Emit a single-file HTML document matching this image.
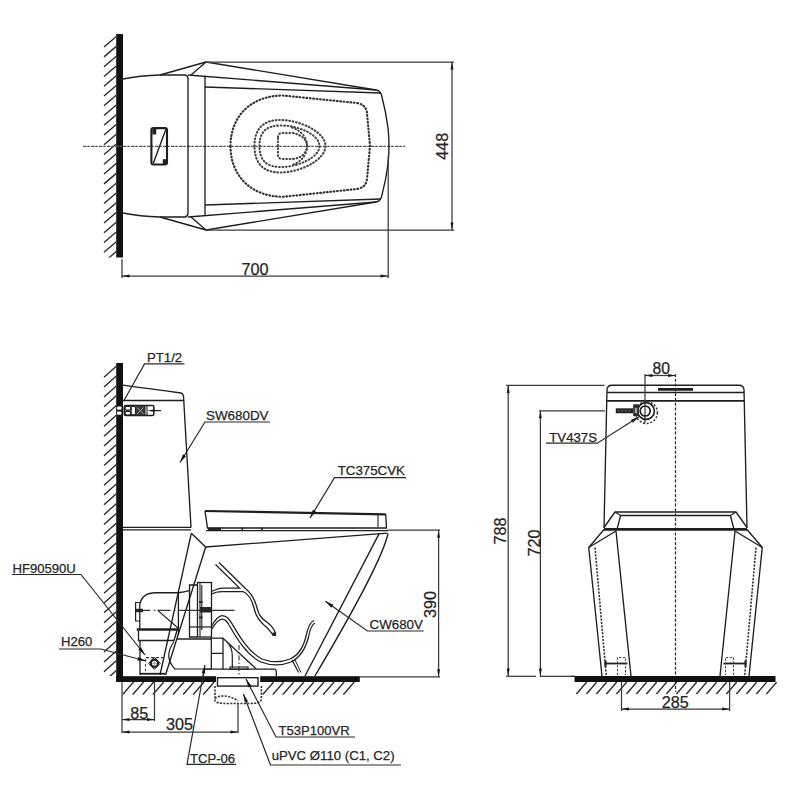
<!DOCTYPE html>
<html><head><meta charset="utf-8"><style>
html,body{margin:0;padding:0;background:#fff;width:800px;height:800px;overflow:hidden}
svg{display:block}
text{font-family:"Liberation Sans",sans-serif}
</style></head><body>
<svg width="800" height="800" viewBox="0 0 800 800">
<rect x="116.2" y="34" width="6.8" height="223.5" fill="#111"/>
<clipPath id="c1"><rect x="103" y="34" width="13.299999999999997" height="223.5"/></clipPath><g clip-path="url(#c1)">
<line x1="104.00" y1="47.10" x2="116.30" y2="36.60" stroke="#2a2a2a" stroke-width="1.35" />
<line x1="104.00" y1="56.87" x2="116.30" y2="46.37" stroke="#2a2a2a" stroke-width="1.35" />
<line x1="104.00" y1="66.64" x2="116.30" y2="56.14" stroke="#2a2a2a" stroke-width="1.35" />
<line x1="104.00" y1="76.41" x2="116.30" y2="65.91" stroke="#2a2a2a" stroke-width="1.35" />
<line x1="104.00" y1="86.18" x2="116.30" y2="75.68" stroke="#2a2a2a" stroke-width="1.35" />
<line x1="104.00" y1="95.95" x2="116.30" y2="85.45" stroke="#2a2a2a" stroke-width="1.35" />
<line x1="104.00" y1="105.72" x2="116.30" y2="95.22" stroke="#2a2a2a" stroke-width="1.35" />
<line x1="104.00" y1="115.49" x2="116.30" y2="104.99" stroke="#2a2a2a" stroke-width="1.35" />
<line x1="104.00" y1="125.26" x2="116.30" y2="114.76" stroke="#2a2a2a" stroke-width="1.35" />
<line x1="104.00" y1="135.03" x2="116.30" y2="124.53" stroke="#2a2a2a" stroke-width="1.35" />
<line x1="104.00" y1="144.80" x2="116.30" y2="134.30" stroke="#2a2a2a" stroke-width="1.35" />
<line x1="104.00" y1="154.57" x2="116.30" y2="144.07" stroke="#2a2a2a" stroke-width="1.35" />
<line x1="104.00" y1="164.34" x2="116.30" y2="153.84" stroke="#2a2a2a" stroke-width="1.35" />
<line x1="104.00" y1="174.11" x2="116.30" y2="163.61" stroke="#2a2a2a" stroke-width="1.35" />
<line x1="104.00" y1="183.88" x2="116.30" y2="173.38" stroke="#2a2a2a" stroke-width="1.35" />
<line x1="104.00" y1="193.65" x2="116.30" y2="183.15" stroke="#2a2a2a" stroke-width="1.35" />
<line x1="104.00" y1="203.42" x2="116.30" y2="192.92" stroke="#2a2a2a" stroke-width="1.35" />
<line x1="104.00" y1="213.19" x2="116.30" y2="202.69" stroke="#2a2a2a" stroke-width="1.35" />
<line x1="104.00" y1="222.96" x2="116.30" y2="212.46" stroke="#2a2a2a" stroke-width="1.35" />
<line x1="104.00" y1="232.73" x2="116.30" y2="222.23" stroke="#2a2a2a" stroke-width="1.35" />
<line x1="104.00" y1="242.50" x2="116.30" y2="232.00" stroke="#2a2a2a" stroke-width="1.35" />
<line x1="104.00" y1="252.27" x2="116.30" y2="241.77" stroke="#2a2a2a" stroke-width="1.35" />
<line x1="104.00" y1="262.04" x2="116.30" y2="251.54" stroke="#2a2a2a" stroke-width="1.35" />
<line x1="104.00" y1="271.81" x2="116.30" y2="261.31" stroke="#2a2a2a" stroke-width="1.35" />
</g>
<line x1="83.00" y1="146.30" x2="405.00" y2="146.30" stroke="#555" stroke-width="1.3" stroke-dasharray="3.5 0.8 2.5 1.2"/>
<path d="M123,79 Q140,75.5 160,75 L185,75 Q188,75.5 188,79 L188,213 Q188,216.5 185,217 L160,217 Q140,216.5 123,213" stroke="#1e1e1e" stroke-width="1.35" fill="none" />
<line x1="160.00" y1="75.00" x2="206.00" y2="62.00" stroke="#1e1e1e" stroke-width="1.35" />
<line x1="191.00" y1="75.00" x2="206.00" y2="62.00" stroke="#1e1e1e" stroke-width="1.35" />
<line x1="160.00" y1="217.00" x2="206.00" y2="230.00" stroke="#1e1e1e" stroke-width="1.35" />
<line x1="191.00" y1="217.00" x2="206.00" y2="230.00" stroke="#1e1e1e" stroke-width="1.35" />
<line x1="206.00" y1="62.00" x2="376.00" y2="90.00" stroke="#1e1e1e" stroke-width="1.35" />
<line x1="206.00" y1="230.00" x2="376.00" y2="202.00" stroke="#1e1e1e" stroke-width="1.35" />
<line x1="188.00" y1="75.00" x2="376.00" y2="90.00" stroke="#1e1e1e" stroke-width="1.35" />
<line x1="188.00" y1="217.00" x2="376.00" y2="202.00" stroke="#1e1e1e" stroke-width="1.35" />
<line x1="205.00" y1="76.00" x2="205.00" y2="216.00" stroke="#1e1e1e" stroke-width="1.35" />
<line x1="205.00" y1="87.00" x2="380.50" y2="93.00" stroke="#1e1e1e" stroke-width="1.35" />
<line x1="205.00" y1="205.00" x2="380.50" y2="199.00" stroke="#1e1e1e" stroke-width="1.35" />
<path d="M376,90 Q380,90.5 381.5,95 Q386,112 388,128 Q389,137 389,146 Q389,155 388,164 Q386,180 381.5,197 Q380,201.5 376,202" stroke="#1e1e1e" stroke-width="1.35" fill="none" />
<path d="M230.5,146 C230.5,115.5 252,95.5 283,95.5 L357,103 Q366,104.5 367,113 L370,146 L367,179 Q366,187.5 357,189 L283,196.8 C252,196.8 230.5,176.5 230.5,146 Z" stroke="#333" stroke-width="2.2" fill="none" stroke-dasharray="0.7 2.7" stroke-linecap="round"/>
<path d="M254.5,146 C254.5,128 264,120 280,120 C300,120 325.5,132 325.5,146 C325.5,160 300,172.5 280,172.5 C264,172.5 254.5,164 254.5,146 Z" stroke="#444" stroke-width="2.1" fill="none" stroke-dasharray="0.7 2.7" stroke-linecap="round"/>
<path d="M259.5,146 C259.5,131 267,125.5 281,125.5 C299,125.5 319.5,135 319.5,146 C319.5,157 299,167 281,167 C267,167 259.5,161 259.5,146 Z" stroke="#444" stroke-width="2.1" fill="none" stroke-dasharray="0.7 2.7" stroke-linecap="round"/>
<path d="M278,137 Q278,133 283,133 L293,133 C302,135 307,140 307,146 C307,152 302,158 293,159 L283,159 Q278,159 278,155 Z" stroke="#444" stroke-width="2.1" fill="none" stroke-dasharray="0.7 2.7" stroke-linecap="round"/>
<path d="M292,127.5 C302,131 307,138 307,146 M307,146 C307,155 301,162 292,165" stroke="#444" stroke-width="2.0" fill="none" stroke-dasharray="0.7 2.7" stroke-linecap="round"/>
<rect x="151.4" y="128.1" width="15.6" height="36.4" rx="2" fill="none" stroke="#1e1e1e" stroke-width="2.1" />
<line x1="165.80" y1="129.50" x2="153.30" y2="163.30" stroke="#1e1e1e" stroke-width="1.4" />
<rect x="152.4" y="129" width="3.8" height="5.5" fill="#222"/>
<rect x="162.8" y="159.2" width="3.8" height="5.3" fill="#222"/>
<line x1="206.00" y1="62.00" x2="454.00" y2="62.00" stroke="#3a3a3a" stroke-width="1.25" />
<line x1="206.00" y1="230.00" x2="454.00" y2="230.00" stroke="#3a3a3a" stroke-width="1.25" />
<line x1="452.00" y1="62.00" x2="452.00" y2="230.00" stroke="#3a3a3a" stroke-width="1.25" />
<path d="M452.00,62.00 L453.50,69.50 L450.50,69.50 Z" fill="#1c1c1c"/>
<path d="M452.00,230.00 L450.50,222.50 L453.50,222.50 Z" fill="#1c1c1c"/>
<text x="447.7" y="146.2" font-size="16.2" text-anchor="middle" fill="#262626" stroke="#262626" stroke-width="0.25" letter-spacing="0" transform="rotate(-90 447.7 146.2)">448</text>
<line x1="122.00" y1="259.00" x2="122.00" y2="278.00" stroke="#3a3a3a" stroke-width="1.25" />
<line x1="388.20" y1="156.00" x2="388.20" y2="278.00" stroke="#3a3a3a" stroke-width="1.25" />
<line x1="122.00" y1="276.00" x2="388.00" y2="276.00" stroke="#3a3a3a" stroke-width="1.25" />
<path d="M122.00,276.00 L129.50,274.50 L129.50,277.50 Z" fill="#1c1c1c"/>
<path d="M388.00,276.00 L380.50,277.50 L380.50,274.50 Z" fill="#1c1c1c"/>
<text x="255" y="275" font-size="16.2" text-anchor="middle" fill="#262626" stroke="#262626" stroke-width="0.25" letter-spacing="0">700</text>
<rect x="116.2" y="363" width="6.8" height="319" fill="#111"/>
<clipPath id="c2"><rect x="103" y="363" width="13.299999999999997" height="313"/></clipPath><g clip-path="url(#c2)">
<line x1="104.00" y1="377.25" x2="116.30" y2="366.25" stroke="#2a2a2a" stroke-width="1.35" />
<line x1="104.00" y1="387.06" x2="116.30" y2="376.06" stroke="#2a2a2a" stroke-width="1.35" />
<line x1="104.00" y1="396.88" x2="116.30" y2="385.88" stroke="#2a2a2a" stroke-width="1.35" />
<line x1="104.00" y1="406.69" x2="116.30" y2="395.69" stroke="#2a2a2a" stroke-width="1.35" />
<line x1="104.00" y1="416.51" x2="116.30" y2="405.51" stroke="#2a2a2a" stroke-width="1.35" />
<line x1="104.00" y1="426.32" x2="116.30" y2="415.32" stroke="#2a2a2a" stroke-width="1.35" />
<line x1="104.00" y1="436.14" x2="116.30" y2="425.14" stroke="#2a2a2a" stroke-width="1.35" />
<line x1="104.00" y1="445.95" x2="116.30" y2="434.95" stroke="#2a2a2a" stroke-width="1.35" />
<line x1="104.00" y1="455.77" x2="116.30" y2="444.77" stroke="#2a2a2a" stroke-width="1.35" />
<line x1="104.00" y1="465.58" x2="116.30" y2="454.58" stroke="#2a2a2a" stroke-width="1.35" />
<line x1="104.00" y1="475.40" x2="116.30" y2="464.40" stroke="#2a2a2a" stroke-width="1.35" />
<line x1="104.00" y1="485.21" x2="116.30" y2="474.21" stroke="#2a2a2a" stroke-width="1.35" />
<line x1="104.00" y1="495.03" x2="116.30" y2="484.03" stroke="#2a2a2a" stroke-width="1.35" />
<line x1="104.00" y1="504.84" x2="116.30" y2="493.84" stroke="#2a2a2a" stroke-width="1.35" />
<line x1="104.00" y1="514.66" x2="116.30" y2="503.66" stroke="#2a2a2a" stroke-width="1.35" />
<line x1="104.00" y1="524.48" x2="116.30" y2="513.48" stroke="#2a2a2a" stroke-width="1.35" />
<line x1="104.00" y1="534.29" x2="116.30" y2="523.29" stroke="#2a2a2a" stroke-width="1.35" />
<line x1="104.00" y1="544.11" x2="116.30" y2="533.11" stroke="#2a2a2a" stroke-width="1.35" />
<line x1="104.00" y1="553.92" x2="116.30" y2="542.92" stroke="#2a2a2a" stroke-width="1.35" />
<line x1="104.00" y1="563.74" x2="116.30" y2="552.74" stroke="#2a2a2a" stroke-width="1.35" />
<line x1="104.00" y1="573.55" x2="116.30" y2="562.55" stroke="#2a2a2a" stroke-width="1.35" />
<line x1="104.00" y1="583.37" x2="116.30" y2="572.37" stroke="#2a2a2a" stroke-width="1.35" />
<line x1="104.00" y1="593.18" x2="116.30" y2="582.18" stroke="#2a2a2a" stroke-width="1.35" />
<line x1="104.00" y1="603.00" x2="116.30" y2="592.00" stroke="#2a2a2a" stroke-width="1.35" />
<line x1="104.00" y1="612.81" x2="116.30" y2="601.81" stroke="#2a2a2a" stroke-width="1.35" />
<line x1="104.00" y1="622.63" x2="116.30" y2="611.63" stroke="#2a2a2a" stroke-width="1.35" />
<line x1="104.00" y1="632.44" x2="116.30" y2="621.44" stroke="#2a2a2a" stroke-width="1.35" />
<line x1="104.00" y1="642.26" x2="116.30" y2="631.26" stroke="#2a2a2a" stroke-width="1.35" />
<line x1="104.00" y1="652.07" x2="116.30" y2="641.07" stroke="#2a2a2a" stroke-width="1.35" />
<line x1="104.00" y1="661.89" x2="116.30" y2="650.89" stroke="#2a2a2a" stroke-width="1.35" />
<line x1="104.00" y1="671.70" x2="116.30" y2="660.70" stroke="#2a2a2a" stroke-width="1.35" />
<line x1="104.00" y1="681.52" x2="116.30" y2="670.52" stroke="#2a2a2a" stroke-width="1.35" />
<line x1="104.00" y1="691.33" x2="116.30" y2="680.33" stroke="#2a2a2a" stroke-width="1.35" />
</g>
<rect x="116.2" y="676.2" width="99.8" height="5.8" fill="#111"/>
<rect x="260.2" y="676.2" width="99.6" height="5.8" fill="#111"/>
<line x1="359.00" y1="676.80" x2="440.00" y2="676.80" stroke="#3a3a3a" stroke-width="1.25" />
<clipPath id="c3"><rect x="122.5" y="682" width="93.5" height="12.799999999999955"/></clipPath><g clip-path="url(#c3)">
<line x1="122.50" y1="694.80" x2="133.50" y2="682.00" stroke="#2a2a2a" stroke-width="1.35" />
<line x1="132.58" y1="694.80" x2="143.58" y2="682.00" stroke="#2a2a2a" stroke-width="1.35" />
<line x1="142.66" y1="694.80" x2="153.66" y2="682.00" stroke="#2a2a2a" stroke-width="1.35" />
<line x1="152.74" y1="694.80" x2="163.74" y2="682.00" stroke="#2a2a2a" stroke-width="1.35" />
<line x1="162.82" y1="694.80" x2="173.82" y2="682.00" stroke="#2a2a2a" stroke-width="1.35" />
<line x1="172.90" y1="694.80" x2="183.90" y2="682.00" stroke="#2a2a2a" stroke-width="1.35" />
<line x1="182.98" y1="694.80" x2="193.98" y2="682.00" stroke="#2a2a2a" stroke-width="1.35" />
<line x1="193.06" y1="694.80" x2="204.06" y2="682.00" stroke="#2a2a2a" stroke-width="1.35" />
<line x1="203.14" y1="694.80" x2="214.14" y2="682.00" stroke="#2a2a2a" stroke-width="1.35" />
</g>
<clipPath id="c4"><rect x="260" y="682" width="96" height="12.799999999999955"/></clipPath><g clip-path="url(#c4)">
<line x1="262.60" y1="694.80" x2="273.60" y2="682.00" stroke="#2a2a2a" stroke-width="1.35" />
<line x1="272.68" y1="694.80" x2="283.68" y2="682.00" stroke="#2a2a2a" stroke-width="1.35" />
<line x1="282.76" y1="694.80" x2="293.76" y2="682.00" stroke="#2a2a2a" stroke-width="1.35" />
<line x1="292.84" y1="694.80" x2="303.84" y2="682.00" stroke="#2a2a2a" stroke-width="1.35" />
<line x1="302.92" y1="694.80" x2="313.92" y2="682.00" stroke="#2a2a2a" stroke-width="1.35" />
<line x1="313.00" y1="694.80" x2="324.00" y2="682.00" stroke="#2a2a2a" stroke-width="1.35" />
<line x1="323.08" y1="694.80" x2="334.08" y2="682.00" stroke="#2a2a2a" stroke-width="1.35" />
<line x1="333.16" y1="694.80" x2="344.16" y2="682.00" stroke="#2a2a2a" stroke-width="1.35" />
<line x1="343.24" y1="694.80" x2="354.24" y2="682.00" stroke="#2a2a2a" stroke-width="1.35" />
</g>
<path d="M123,385.2 Q150,389 181,393 Q183,393.5 183.5,396 L191,527.5" stroke="#1e1e1e" stroke-width="1.35" fill="none" />
<line x1="123.00" y1="400.50" x2="183.00" y2="400.50" stroke="#1e1e1e" stroke-width="1.7" />
<line x1="123.00" y1="527.30" x2="191.00" y2="527.30" stroke="#1e1e1e" stroke-width="1.35" />
<line x1="123.00" y1="529.90" x2="191.00" y2="529.90" stroke="#1e1e1e" stroke-width="1.35" />
<rect x="117" y="406.6" width="4.5" height="3.2" rx="1" fill="#fff"/>
<rect x="117" y="411.6" width="4.5" height="3.2" rx="1" fill="#fff"/>
<rect x="124.25" y="405.6" width="29.6" height="10" rx="1.5" fill="none" stroke="#1e1e1e" stroke-width="1.5" />
<rect x="125.2" y="406.5" width="5.5" height="3.6" rx="1" fill="none" stroke="#1e1e1e" stroke-width="1.1" />
<rect x="125.2" y="411.4" width="5.5" height="3.6" rx="1" fill="none" stroke="#1e1e1e" stroke-width="1.1" />
<rect x="131.2" y="406.4" width="4.3" height="8.4" rx="1" fill="none" stroke="#1e1e1e" stroke-width="1.1" />
<rect x="135.8" y="406" width="8.8" height="9.2" fill="#3a3a3a"/>
<path d="M137,407.5 L143.5,414 M137,414 L143.5,407.5" stroke="#aaa" stroke-width="0.9"/>
<line x1="144.80" y1="405.60" x2="144.80" y2="415.60" stroke="#1e1e1e" stroke-width="1.3" />
<line x1="147.00" y1="405.60" x2="147.00" y2="415.60" stroke="#1e1e1e" stroke-width="1.1" />
<line x1="161.00" y1="410.60" x2="150.00" y2="410.60" stroke="#1e1e1e" stroke-width="1.2" />
<path d="M147.50,410.60 L155.00,409.25 L155.00,411.95 Z" fill="#222"/>
<path d="M205,511 L385.7,514.3" stroke="#1e1e1e" stroke-width="2.2" fill="none" />
<path d="M205,511 L207.5,528 L386.5,528 L385.7,514.3" stroke="#1e1e1e" stroke-width="1.35" fill="none" />
<line x1="378.00" y1="515.00" x2="378.00" y2="527.00" stroke="#1e1e1e" stroke-width="1.1" />
<line x1="206.00" y1="530.60" x2="388.00" y2="530.60" stroke="#1e1e1e" stroke-width="1.35" />
<rect x="208" y="527.8" width="13" height="2.6" fill="#222"/>
<line x1="242.30" y1="527.50" x2="242.30" y2="531.00" stroke="#1e1e1e" stroke-width="1.6" />
<line x1="262.00" y1="527.50" x2="262.00" y2="531.00" stroke="#1e1e1e" stroke-width="1.6" />
<path d="M191.3,533.3 L205.7,547 L387.3,533.1" stroke="#1e1e1e" stroke-width="1.35" fill="none" />
<line x1="191.30" y1="533.30" x2="160.00" y2="675.00" stroke="#1e1e1e" stroke-width="1.35" />
<line x1="205.70" y1="547.00" x2="165.50" y2="675.00" stroke="#1e1e1e" stroke-width="1.35" />
<path d="M388,533.5 C384,552 360,600 314.9,676" stroke="#1e1e1e" stroke-width="1.35" fill="none" />
<path d="M379,533.9 L305,676" stroke="#1e1e1e" stroke-width="1.35" fill="none" />
<path d="M219,562.5 L246,589 C252,594 255,600 257,608 C259,616 262,619 268,623 C272,626 274,629 276,634" stroke="#1e1e1e" stroke-width="1.25" fill="none" />
<path d="M212,594 C215,592 217,591.5 222,591.5 L243,591.5 C249,594 252,600 254,608 C256,617 259,621 264,625 C268,628 270,631 273,635" stroke="#1e1e1e" stroke-width="1.25" fill="none" />
<path d="M215.5,564.5 L239.5,588 L222,588 C217,588 215,591 211.5,591" stroke="#1e1e1e" stroke-width="1.25" fill="none" />
<rect x="272.5" y="632.5" width="3.5" height="3.5" fill="#222"/>
<path d="M211.5,626 C215,620 218,615.5 222,615.5 C226,615.5 228,618 231,622 C238,634 248,652 262,659 C270,662 280,663 290,659 C299,655 304,645 306,636 C308,627 310,622 314,620.5" stroke="#1e1e1e" stroke-width="1.25" fill="none" />
<path d="M211.5,629.5 C215,623.5 218,619 222,619 C225,619 227,621 229,625 C236,637 246,655 261,662 C270,665.5 281,666 291,662 C301,657 306,647 308.5,637 C310,629 312,624.5 315,623" stroke="#1e1e1e" stroke-width="1.25" fill="none" />
<line x1="292.00" y1="660.00" x2="298.60" y2="672.50" stroke="#1e1e1e" stroke-width="1.2" />
<line x1="295.00" y1="660.00" x2="301.00" y2="672.50" stroke="#1e1e1e" stroke-width="1.0" />
<path d="M139.75,628.5 L139.75,604.75 C141,597 146,592.75 156,592.75 L178.4,592.75 Q184,592 189.25,590.5" stroke="#1e1e1e" stroke-width="1.3" fill="none" />
<path d="M139.75,602.5 L135.6,602.5 L135.6,621 L139.75,621" stroke="#1e1e1e" stroke-width="1.2" fill="none" />
<line x1="136.75" y1="629.50" x2="178.50" y2="629.50" stroke="#1e1e1e" stroke-width="2.6" />
<path d="M138.5,630.5 L138.5,640.5 L174,640.5 L177,630.5" stroke="#1e1e1e" stroke-width="1.3" fill="none" />
<line x1="178.40" y1="591.00" x2="178.40" y2="635.00" stroke="#1e1e1e" stroke-width="1.3" />
<line x1="140.00" y1="640.50" x2="140.00" y2="675.00" stroke="#1e1e1e" stroke-width="1.3" />
<line x1="140.00" y1="674.00" x2="165.00" y2="674.00" stroke="#1e1e1e" stroke-width="1.2" />
<path d="M139.75,610.4 L150.25,610.4 M153.75,610.4 L155.25,610.4 M157.75,610.4 L170.5,610.4 M174,610.4 L175.5,610.4 M178.5,610.4 L234.5,610.4" stroke="#333" stroke-width="1.2" fill="none" />
<rect x="135.5" y="608.8" width="7.5" height="3.4" fill="#222"/>
<line x1="157.75" y1="610.40" x2="178.00" y2="628.00" stroke="#1e1e1e" stroke-width="1.2" />
<circle cx="154.4" cy="663.3" r="3.6" fill="none" stroke="#1e1e1e" stroke-width="2.2" />
<path d="M154.4,657.3 L160.2,663.3 L154.4,669.3 L148.6,663.3 Z" stroke="#1e1e1e" stroke-width="1.0" fill="none" />
<line x1="152.20" y1="663.30" x2="156.60" y2="663.30" stroke="#888" stroke-width="0.8" />
<line x1="154.40" y1="661.00" x2="154.40" y2="665.60" stroke="#888" stroke-width="0.8" />
<line x1="146.00" y1="657.60" x2="163.00" y2="657.60" stroke="#333" stroke-width="1.1" stroke-dasharray="3 2"/>
<line x1="145.50" y1="659.00" x2="145.50" y2="671.00" stroke="#444" stroke-width="1.0" stroke-dasharray="2.5 2.5"/>
<line x1="140.00" y1="673.50" x2="165.00" y2="673.50" stroke="#1e1e1e" stroke-width="1.3" />
<rect x="197.5" y="582.5" width="14" height="54.5" rx="0" fill="none" stroke="#1e1e1e" stroke-width="1.3" />
<path d="M197.5,585 L189.5,585 L189.5,637 L197.5,637" stroke="#1e1e1e" stroke-width="1.3" fill="none" />
<line x1="189.50" y1="627.00" x2="211.50" y2="627.00" stroke="#1e1e1e" stroke-width="1.2" />
<line x1="200.00" y1="582.50" x2="200.00" y2="637.00" stroke="#1e1e1e" stroke-width="1.1" />
<line x1="201.80" y1="585.00" x2="201.80" y2="630.00" stroke="#1e1e1e" stroke-width="1.1" />
<rect x="200" y="607" width="11" height="5.5" fill="#262626"/>
<rect x="199" y="601" width="3.5" height="2" fill="#262626"/>
<rect x="199" y="616.5" width="3.5" height="2" fill="#262626"/>
<line x1="177.00" y1="639.00" x2="211.50" y2="639.00" stroke="#1e1e1e" stroke-width="1.3" />
<line x1="174.00" y1="669.00" x2="211.50" y2="669.00" stroke="#1e1e1e" stroke-width="1.2" />
<path d="M174,641.5 C168,650 166,660 175,669" stroke="#1e1e1e" stroke-width="1.2" fill="none" />
<path d="M211.3,637.5 L211.3,669.5 M223,638 L223,669.5 M211.3,653.4 L223,653.4 M211.3,638 L223,638" stroke="#1e1e1e" stroke-width="1.25" fill="none" />
<path d="M222.75,638 L256.4,669 M226.5,641.5 C230.5,645 232.3,650 232.3,656 L232.3,668" stroke="#1e1e1e" stroke-width="1.2" fill="none" />
<path d="M203.4,669.2 L274.5,669.2 Q276.3,669.5 276.3,671.5 L276.3,676.2" stroke="#1e1e1e" stroke-width="1.3" fill="none" />
<line x1="203.40" y1="669.20" x2="203.40" y2="676.20" stroke="#1e1e1e" stroke-width="1.2" />
<rect x="230" y="667" width="18" height="2.2" rx="0" fill="none" stroke="#1e1e1e" stroke-width="1.1" />
<line x1="239.00" y1="645.00" x2="239.00" y2="676.00" stroke="#333" stroke-width="1.1" stroke-dasharray="5 2 1.5 2"/>
<rect x="217.5" y="677.7" width="40.5" height="8.4" rx="0" fill="none" stroke="#1e1e1e" stroke-width="1.4" />
<path d="M215,686 L215,700.7 Q216,703.5 228,703.5 L250,703.5 Q261.4,703.5 261.4,699 L261.4,686" stroke="#333" stroke-width="1.6" fill="none" stroke-dasharray="2.1 1.3"/>
<path d="M215,698.5 C220,694 232,696 238,701" stroke="#333" stroke-width="1.6" fill="none" stroke-dasharray="2.1 1.3"/>
<text x="147" y="362" font-size="13.2" text-anchor="start" fill="#262626" stroke="#262626" stroke-width="0.25" letter-spacing="0">PT1/2</text>
<path d="M184.5,363.9 L144.5,363.9 L124,400.5" stroke="#2a2a2a" stroke-width="1.2" fill="none" />
<text x="206" y="420" font-size="13.4" text-anchor="start" fill="#262626" stroke="#262626" stroke-width="0.25" letter-spacing="0">SW680DV</text>
<path d="M270,422 L205,422 L180,462.5" stroke="#2a2a2a" stroke-width="1.2" fill="none" />
<path d="M180.00,462.50 L182.98,454.35 L185.95,456.19 Z" fill="#151515"/>
<text x="337.7" y="475.3" font-size="13.3" text-anchor="start" fill="#262626" stroke="#262626" stroke-width="0.25" letter-spacing="0">TC375CVK</text>
<path d="M406,477.6 L334.5,477.6 L310,518" stroke="#2a2a2a" stroke-width="1.2" fill="none" />
<path d="M310.00,518.00 L312.91,509.82 L315.90,511.64 Z" fill="#151515"/>
<text x="369.6" y="629.4" font-size="13.3" text-anchor="start" fill="#262626" stroke="#262626" stroke-width="0.25" letter-spacing="0">CW680V</text>
<path d="M423.7,631 L367.4,631 L325.4,601.3" stroke="#2a2a2a" stroke-width="1.2" fill="none" />
<path d="M325.40,601.30 L333.35,604.78 L331.33,607.64 Z" fill="#151515"/>
<text x="12.5" y="573" font-size="13.1" text-anchor="start" fill="#262626" stroke="#262626" stroke-width="0.25" letter-spacing="0">HF90590U</text>
<path d="M12,574.5 L81,574.5 L145,655" stroke="#2a2a2a" stroke-width="1.2" fill="none" />
<path d="M145.00,655.00 L138.34,649.44 L141.08,647.26 Z" fill="#151515"/>
<text x="61" y="646" font-size="13.1" text-anchor="start" fill="#262626" stroke="#262626" stroke-width="0.25" letter-spacing="0">H260</text>
<path d="M59,649 L101,649 L146,661" stroke="#2a2a2a" stroke-width="1.2" fill="none" />
<path d="M146.00,661.00 L137.34,660.50 L138.24,657.12 Z" fill="#151515"/>
<text x="190" y="763" font-size="13.1" text-anchor="start" fill="#262626" stroke="#262626" stroke-width="0.25" letter-spacing="0">TCP-06</text>
<path d="M236,764.3 L187,764.3 L205,665" stroke="#2a2a2a" stroke-width="1.2" fill="none" />
<path d="M205.00,665.00 L205.21,673.68 L201.76,673.05 Z" fill="#151515"/>
<text x="278.4" y="734.7" font-size="13.1" text-anchor="start" fill="#262626" stroke="#262626" stroke-width="0.25" letter-spacing="0">T53P100VR</text>
<path d="M355,737 L276,737 L246,679" stroke="#2a2a2a" stroke-width="1.2" fill="none" />
<path d="M246.00,679.00 L251.46,685.75 L248.35,687.35 Z" fill="#151515"/>
<text x="271.7" y="760" font-size="13.2" text-anchor="start" fill="#262626" stroke="#262626" stroke-width="0.25" letter-spacing="0">uPVC Ø110 (C1, C2)</text>
<path d="M401,765 L270.5,765 L243.4,694" stroke="#2a2a2a" stroke-width="1.2" fill="none" />
<path d="M243.40,694.00 L248.07,701.32 L244.80,702.57 Z" fill="#151515"/>
<line x1="387.60" y1="530.20" x2="440.00" y2="530.20" stroke="#3a3a3a" stroke-width="1.25" />
<line x1="438.60" y1="530.20" x2="438.60" y2="676.80" stroke="#3a3a3a" stroke-width="1.25" />
<path d="M438.60,530.20 L440.10,537.70 L437.10,537.70 Z" fill="#1c1c1c"/>
<path d="M438.60,676.80 L437.10,669.30 L440.10,669.30 Z" fill="#1c1c1c"/>
<text x="436.5" y="604.4" font-size="16.2" text-anchor="middle" fill="#262626" stroke="#262626" stroke-width="0.25" letter-spacing="0" transform="rotate(-90 436.5 604.4)">390</text>
<line x1="122.00" y1="682.00" x2="122.00" y2="733.00" stroke="#3a3a3a" stroke-width="1.25" />
<line x1="154.50" y1="682.00" x2="154.50" y2="721.00" stroke="#3a3a3a" stroke-width="1.25" />
<line x1="238.00" y1="703.00" x2="238.00" y2="733.00" stroke="#3a3a3a" stroke-width="1.25" />
<line x1="122.00" y1="719.60" x2="154.50" y2="719.60" stroke="#3a3a3a" stroke-width="1.25" />
<path d="M122.00,719.60 L129.50,718.10 L129.50,721.10 Z" fill="#1c1c1c"/>
<path d="M154.50,719.60 L147.00,721.10 L147.00,718.10 Z" fill="#1c1c1c"/>
<text x="139.2" y="718.6" font-size="16.2" text-anchor="middle" fill="#262626" stroke="#262626" stroke-width="0.25" letter-spacing="0">85</text>
<line x1="122.00" y1="732.00" x2="238.00" y2="732.00" stroke="#3a3a3a" stroke-width="1.25" />
<path d="M122.00,732.00 L129.50,730.50 L129.50,733.50 Z" fill="#1c1c1c"/>
<path d="M238.00,732.00 L230.50,733.50 L230.50,730.50 Z" fill="#1c1c1c"/>
<text x="179.5" y="730" font-size="16.2" text-anchor="middle" fill="#262626" stroke="#262626" stroke-width="0.25" letter-spacing="0">305</text>
<path d="M604,528 L607,389.5 Q607.5,385.2 612,385.2 L739,385.2 Q743.5,385.2 744,389.5 L747,528" stroke="#1e1e1e" stroke-width="1.35" fill="none" />
<line x1="607.00" y1="392.50" x2="744.00" y2="392.50" stroke="#1e1e1e" stroke-width="1.35" />
<line x1="607.00" y1="400.90" x2="744.20" y2="400.90" stroke="#1e1e1e" stroke-width="1.9" />
<line x1="658.00" y1="389.40" x2="693.00" y2="389.40" stroke="#1e1e1e" stroke-width="2.8" />
<line x1="675.50" y1="374.00" x2="675.50" y2="692.00" stroke="#2a2a2a" stroke-width="1.2" stroke-dasharray="3 1.8"/>
<line x1="645.00" y1="374.00" x2="645.00" y2="423.00" stroke="#3a3a3a" stroke-width="1.25" />
<line x1="645.00" y1="375.50" x2="675.50" y2="375.50" stroke="#3a3a3a" stroke-width="1.25" />
<path d="M645.00,375.50 L652.50,374.00 L652.50,377.00 Z" fill="#1c1c1c"/>
<path d="M675.50,375.50 L668.00,377.00 L668.00,374.00 Z" fill="#1c1c1c"/>
<text x="661.3" y="373.8" font-size="15.8" text-anchor="middle" fill="#262626" stroke="#262626" stroke-width="0.25" letter-spacing="0">80</text>
<circle cx="646" cy="411" r="8.4" fill="none" stroke="#1e1e1e" stroke-width="1.6" />
<circle cx="645.2" cy="411" r="5" fill="none" stroke="#1e1e1e" stroke-width="1.7" />
<circle cx="646.5" cy="412.6" r="10.9" fill="none" stroke="#333" stroke-width="1.5" stroke-dasharray="2 1.7"/>
<rect x="615.75" y="408.3" width="17.5" height="5" fill="#262626"/>
<path d="M618,410.8 L632,410.8" stroke="#777" stroke-width="1" stroke-dasharray="1.5 2"/>
<rect x="633.2" y="404.3" width="5.7" height="11.8" fill="#2a2a2a"/>
<rect x="634.8" y="407.8" width="2.4" height="5.5" fill="#aaa"/>
<text x="549.3" y="441.5" font-size="13.2" text-anchor="start" fill="#262626" stroke="#262626" stroke-width="0.25" letter-spacing="0">TV437S</text>
<path d="M546,443.2 L597.3,443.2 L639,416.75" stroke="#2a2a2a" stroke-width="1.2" fill="none" />
<path d="M639.00,416.75 L632.76,422.78 L630.88,419.83 Z" fill="#151515"/>
<line x1="506.00" y1="385.40" x2="604.50" y2="385.40" stroke="#3a3a3a" stroke-width="1.25" />
<line x1="508.20" y1="385.40" x2="508.20" y2="676.00" stroke="#3a3a3a" stroke-width="1.25" />
<path d="M508.20,385.40 L509.70,392.90 L506.70,392.90 Z" fill="#1c1c1c"/>
<path d="M508.20,676.00 L506.70,668.50 L509.70,668.50 Z" fill="#1c1c1c"/>
<text x="506.3" y="531" font-size="16.2" text-anchor="middle" fill="#262626" stroke="#262626" stroke-width="0.25" letter-spacing="0" transform="rotate(-90 506.3 531)">788</text>
<line x1="539.00" y1="410.75" x2="605.00" y2="410.75" stroke="#3a3a3a" stroke-width="1.25" />
<line x1="540.40" y1="410.75" x2="540.40" y2="676.00" stroke="#3a3a3a" stroke-width="1.25" />
<path d="M540.40,410.75 L541.90,418.25 L538.90,418.25 Z" fill="#1c1c1c"/>
<path d="M540.40,676.00 L538.90,668.50 L541.90,668.50 Z" fill="#1c1c1c"/>
<text x="539.5" y="543" font-size="16.2" text-anchor="middle" fill="#262626" stroke="#262626" stroke-width="0.25" letter-spacing="0" transform="rotate(-90 539.5 543)">720</text>
<line x1="506.00" y1="676.30" x2="536.00" y2="676.30" stroke="#3a3a3a" stroke-width="1.25" />
<line x1="540.00" y1="676.30" x2="575.00" y2="676.30" stroke="#3a3a3a" stroke-width="1.25" />
<path d="M604,527.5 L615,512 L736.0,512 L747.0,527.5" stroke="#1e1e1e" stroke-width="1.35" fill="none" />
<path d="M617,529.4 L620.6,515.5 L730.4,515.5 L734.0,529.4" stroke="#1e1e1e" stroke-width="1.35" fill="none" />
<line x1="615.00" y1="512.00" x2="620.60" y2="515.50" stroke="#1e1e1e" stroke-width="1.1" />
<line x1="736.00" y1="512.00" x2="730.40" y2="515.50" stroke="#1e1e1e" stroke-width="1.1" />
<line x1="604.00" y1="529.40" x2="747.00" y2="529.40" stroke="#1e1e1e" stroke-width="2.8" />
<path d="M604,529.5 L588.75,547.5 L602,676" stroke="#1e1e1e" stroke-width="1.35" fill="none" />
<path d="M616,531 L588.75,547.5" stroke="#1e1e1e" stroke-width="1.35" fill="none" />
<line x1="616.00" y1="531.00" x2="631.00" y2="676.00" stroke="#1e1e1e" stroke-width="1.35" />
<line x1="595.00" y1="547.50" x2="606.30" y2="676.00" stroke="#333" stroke-width="1.6" stroke-dasharray="2.1 1.3"/>
<line x1="605.00" y1="663.50" x2="627.50" y2="663.50" stroke="#222" stroke-width="1.8" />
<line x1="605.50" y1="660.50" x2="605.50" y2="666.50" stroke="#222" stroke-width="2.2" />
<path d="M617.5,675 L617.5,657.5 L625.5,657.5 L625.5,675" stroke="#444" stroke-width="1.1" fill="none" stroke-dasharray="2.2 1.6"/>
<path d="M747.0,529.5 L762.25,547.5 L749.0,676" stroke="#1e1e1e" stroke-width="1.35" fill="none" />
<path d="M735.0,531 L762.25,547.5" stroke="#1e1e1e" stroke-width="1.35" fill="none" />
<line x1="735.00" y1="531.00" x2="720.00" y2="676.00" stroke="#1e1e1e" stroke-width="1.35" />
<line x1="756.00" y1="547.50" x2="744.70" y2="676.00" stroke="#333" stroke-width="1.6" stroke-dasharray="2.1 1.3"/>
<line x1="746.00" y1="663.50" x2="723.50" y2="663.50" stroke="#222" stroke-width="1.8" />
<line x1="745.50" y1="660.50" x2="745.50" y2="666.50" stroke="#222" stroke-width="2.2" />
<path d="M733.5,675 L733.5,657.5 L725.5,657.5 L725.5,675" stroke="#444" stroke-width="1.1" fill="none" stroke-dasharray="2.2 1.6"/>
<rect x="574.5" y="676" width="201" height="6" fill="#111"/>
<line x1="570.00" y1="676.30" x2="575.00" y2="676.30" stroke="#3a3a3a" stroke-width="1.25" />
<clipPath id="c5"><rect x="574" y="682" width="203" height="12.200000000000045"/></clipPath><g clip-path="url(#c5)">
<line x1="576.25" y1="694.20" x2="586.75" y2="682.00" stroke="#2a2a2a" stroke-width="1.35" />
<line x1="586.25" y1="694.20" x2="596.75" y2="682.00" stroke="#2a2a2a" stroke-width="1.35" />
<line x1="596.25" y1="694.20" x2="606.75" y2="682.00" stroke="#2a2a2a" stroke-width="1.35" />
<line x1="606.25" y1="694.20" x2="616.75" y2="682.00" stroke="#2a2a2a" stroke-width="1.35" />
<line x1="616.25" y1="694.20" x2="626.75" y2="682.00" stroke="#2a2a2a" stroke-width="1.35" />
<line x1="626.25" y1="694.20" x2="636.75" y2="682.00" stroke="#2a2a2a" stroke-width="1.35" />
<line x1="636.25" y1="694.20" x2="646.75" y2="682.00" stroke="#2a2a2a" stroke-width="1.35" />
<line x1="646.25" y1="694.20" x2="656.75" y2="682.00" stroke="#2a2a2a" stroke-width="1.35" />
<line x1="656.25" y1="694.20" x2="666.75" y2="682.00" stroke="#2a2a2a" stroke-width="1.35" />
<line x1="666.25" y1="694.20" x2="676.75" y2="682.00" stroke="#2a2a2a" stroke-width="1.35" />
<line x1="676.25" y1="694.20" x2="686.75" y2="682.00" stroke="#2a2a2a" stroke-width="1.35" />
<line x1="686.25" y1="694.20" x2="696.75" y2="682.00" stroke="#2a2a2a" stroke-width="1.35" />
<line x1="696.25" y1="694.20" x2="706.75" y2="682.00" stroke="#2a2a2a" stroke-width="1.35" />
<line x1="706.25" y1="694.20" x2="716.75" y2="682.00" stroke="#2a2a2a" stroke-width="1.35" />
<line x1="716.25" y1="694.20" x2="726.75" y2="682.00" stroke="#2a2a2a" stroke-width="1.35" />
<line x1="726.25" y1="694.20" x2="736.75" y2="682.00" stroke="#2a2a2a" stroke-width="1.35" />
<line x1="736.25" y1="694.20" x2="746.75" y2="682.00" stroke="#2a2a2a" stroke-width="1.35" />
<line x1="746.25" y1="694.20" x2="756.75" y2="682.00" stroke="#2a2a2a" stroke-width="1.35" />
<line x1="756.25" y1="694.20" x2="766.75" y2="682.00" stroke="#2a2a2a" stroke-width="1.35" />
<line x1="766.25" y1="694.20" x2="776.75" y2="682.00" stroke="#2a2a2a" stroke-width="1.35" />
</g>
<line x1="621.50" y1="682.00" x2="621.50" y2="711.00" stroke="#3a3a3a" stroke-width="1.25" />
<line x1="729.60" y1="682.00" x2="729.60" y2="711.00" stroke="#3a3a3a" stroke-width="1.25" />
<line x1="621.50" y1="709.00" x2="729.60" y2="709.00" stroke="#3a3a3a" stroke-width="1.25" />
<path d="M621.50,709.00 L629.00,707.50 L629.00,710.50 Z" fill="#1c1c1c"/>
<path d="M729.60,709.00 L722.10,710.50 L722.10,707.50 Z" fill="#1c1c1c"/>
<text x="675.3" y="708" font-size="16.2" text-anchor="middle" fill="#262626" stroke="#262626" stroke-width="0.25" letter-spacing="0">285</text>
</svg></body></html>
